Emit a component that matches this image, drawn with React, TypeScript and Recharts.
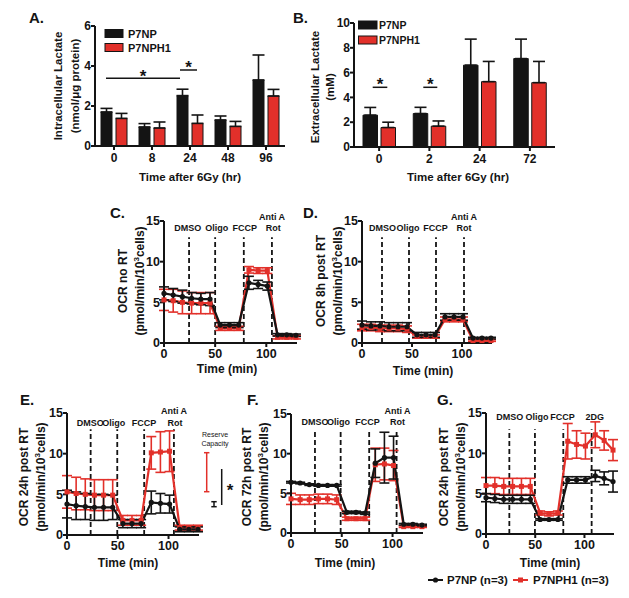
import React from "react";
import { BarChart, Bar, LineChart, Line, XAxis, YAxis, ErrorBar, ReferenceLine } from "recharts";

const FONT = '"Liberation Sans", Arial, Helvetica, sans-serif';
const INK = "#141414";
const RED = "#e2302a";

// A. intracellular lactate (nmol/ug protein)
const inCats = ["0", "8", "24", "48", "96"];
const inNp = [1.7, 0.95, 2.52, 1.3, 3.3];
const inNpErr = [0.18, 0.17, 0.32, 0.2, 1.25];
const inH1 = [1.38, 0.9, 1.13, 0.98, 2.5];
const inH1Err = [0.25, 0.3, 0.42, 0.25, 0.33];

// B. extracellular lactate (mM)
const exCats = ["0", "2", "24", "72"];
const exNp = [2.57, 2.7, 6.6, 7.13];
const exNpErr = [0.62, 0.5, 2.1, 1.57];
const exH1 = [1.57, 1.68, 5.27, 5.19];
const exH1Err = [0.43, 0.42, 1.63, 1.71];

// seahorse measurement times (min)
const times = [0, 9, 18, 27, 36, 45, 55, 64, 73, 83, 92, 101, 111, 120, 129];

// C. no RT
const cNp = [6.1, 5.9, 5.7, 5.5, 5.4, 5.4, 2.2, 2.2, 2.2, 7.4, 7.2, 7.0, 1.0, 1.0, 0.95];
const cNpErr = [0.8, 0.8, 0.8, 0.7, 0.7, 0.8, 0.3, 0.3, 0.3, 0.8, 0.5, 0.5, 0.15, 0.15, 0.15];
const cH1 = [5.3, 5.2, 5.0, 4.9, 4.9, 4.9, 1.8, 1.8, 1.8, 9.0, 8.9, 8.9, 0.7, 0.7, 0.7];
const cH1Err = [1.3, 1.4, 1.4, 1.3, 1.3, 1.3, 0.25, 0.25, 0.25, 0.4, 0.35, 0.35, 0.2, 0.2, 0.2];
const cInject = [24.5, 50, 78, 105.5];

// D. 8h post RT
const dNp = [2.2, 2.1, 2.1, 2.0, 2.0, 2.0, 1.0, 1.0, 1.0, 3.2, 3.2, 3.2, 0.6, 0.6, 0.6];
const dNpErr = [0.5, 0.5, 0.5, 0.5, 0.5, 0.5, 0.3, 0.3, 0.3, 0.4, 0.4, 0.4, 0.1, 0.1, 0.1];
const dH1 = [1.9, 1.9, 1.8, 1.8, 1.8, 1.7, 0.8, 0.8, 0.8, 2.9, 2.9, 2.9, 0.3, 0.3, 0.3];
const dH1Err = [0.4, 0.4, 0.4, 0.4, 0.4, 0.4, 0.2, 0.2, 0.2, 0.3, 0.3, 0.3, 0.1, 0.1, 0.1];
const dInject = [20, 47, 74, 102];

// E. 24h post RT
const eNp = [3.8, 3.6, 3.5, 3.4, 3.4, 3.4, 1.4, 1.4, 1.4, 4.0, 3.9, 3.8, 0.7, 0.7, 0.7];
const eNpErr = [1.7, 1.7, 1.6, 1.6, 1.6, 1.5, 0.5, 0.5, 0.5, 1.4, 1.2, 1.1, 0.3, 0.3, 0.3];
const eH1 = [5.3, 5.1, 5.0, 4.9, 4.9, 4.9, 1.8, 1.8, 1.8, 10.1, 10.2, 10.3, 0.9, 0.9, 0.9];
const eH1Err = [2.0, 2.0, 1.9, 1.9, 1.9, 1.9, 0.6, 0.6, 0.6, 2.0, 2.5, 2.5, 0.3, 0.3, 0.3];
const eInject = [23.3, 49.5, 76, 105.3];

// F. 72h post RT
const fNp = [6.4, 6.3, 6.1, 6.0, 6.0, 6.0, 2.6, 2.6, 2.5, 8.8, 9.5, 9.5, 1.1, 1.1, 1.0];
const fNpErr = [0.1, 0.1, 0.1, 0.1, 0.1, 0.1, 0.15, 0.15, 0.15, 1.8, 3.2, 2.7, 0.1, 0.1, 0.1];
const fH1 = [4.3, 4.2, 4.2, 4.3, 4.3, 4.2, 1.8, 1.8, 1.8, 8.6, 8.7, 8.5, 0.8, 0.8, 0.8];
const fH1Err = [0.7, 0.6, 0.6, 0.6, 0.6, 0.6, 0.2, 0.2, 0.2, 2.1, 2.0, 1.9, 0.1, 0.1, 0.1];
const fInject = [23.6, 48.9, 77, 104];

// G. 24h post RT, 2DG
const gNp = [4.5, 4.4, 4.3, 4.3, 4.3, 4.3, 1.8, 1.8, 1.8, 6.7, 6.7, 6.7, 7.2, 6.9, 6.5];
const gNpErr = [0.5, 0.5, 0.5, 0.5, 0.5, 0.5, 0.1, 0.1, 0.1, 0.4, 0.4, 0.4, 0.7, 0.8, 1.3];
const gH1 = [6.0, 6.0, 5.9, 5.9, 5.9, 5.9, 2.6, 2.5, 2.6, 11.5, 11.1, 10.9, 12.3, 11.6, 10.4];
const gH1Err = [1.0, 1.0, 1.0, 1.0, 1.0, 1.0, 0.25, 0.25, 0.25, 2.2, 1.7, 1.6, 1.6, 1.2, 1.3];
const gInject = [23.7, 49.7, 78.5, 107.3];

const barRows = (cats: string[], np: number[], npE: number[], h1: number[], h1E: number[]) =>
  cats.map((t, i) => ({ t, np: np[i], npE: [0, npE[i]], h1: h1[i], h1E: [0, h1E[i]] }));

const ocrRows = (np: number[], npE: number[], h1: number[], h1E: number[]) =>
  times.map((t, i) => ({ t, np: np[i], npE: npE[i], h1: h1[i], h1E: h1E[i] }));

const axisStyle = { stroke: INK, strokeWidth: 2 };

type Box = { left: number; top: number; width: number; height: number; yw: number; mt: number; mr: number; xh: number };

function LactateBars({ rows, box, yMax, yTicks, barSize, barGap }: any) {
  const tick = { fill: INK, fontSize: 12, fontWeight: 700, fontFamily: FONT };
  return (
    <div style={{ position: "absolute", left: box.left, top: box.top }}>
      <BarChart
        width={box.width}
        height={box.height}
        data={rows}
        margin={{ top: box.mt, right: box.mr, left: 0, bottom: 0 }}
        barSize={barSize}
        barGap={barGap}
      >
        <XAxis dataKey="t" height={box.xh} tickSize={4} tickMargin={3} axisLine={axisStyle} tickLine={axisStyle} tick={tick} />
        <YAxis width={box.yw} domain={[0, yMax]} ticks={yTicks} interval={0} tickSize={4} tickMargin={0} axisLine={axisStyle} tickLine={axisStyle} tick={tick} />
        <Bar dataKey="np" fill={INK} stroke={INK} strokeWidth={1} isAnimationActive={false}>
          <ErrorBar dataKey="npE" width={6} stroke={INK} strokeWidth={1.6} />
        </Bar>
        <Bar dataKey="h1" fill={RED} stroke={INK} strokeWidth={1} isAnimationActive={false}>
          <ErrorBar dataKey="h1E" width={6} stroke={INK} strokeWidth={1.6} />
        </Bar>
      </BarChart>
    </div>
  );
}

const roundDot = (p: any) => <circle key={`c${p.index}`} cx={p.cx} cy={p.cy} r={2.6} fill={INK} />;
const squareDot = (p: any) => <rect key={`s${p.index}`} x={p.cx - 2.5} y={p.cy - 2.5} width={5} height={5} fill={RED} />;

function OcrPanel({ rows, box, inject }: { rows: any[]; box: Box; inject: number[] }) {
  const tick = { fill: INK, fontSize: 12.5, fontWeight: 700, fontFamily: FONT };
  return (
    <div style={{ position: "absolute", left: box.left, top: box.top }}>
      <LineChart width={box.width} height={box.height} data={rows} margin={{ top: box.mt, right: box.mr, left: 0, bottom: 0 }}>
        <XAxis type="number" dataKey="t" domain={[0, 130]} ticks={[0, 50, 100]} height={box.xh} tickSize={4} tickMargin={2} axisLine={axisStyle} tickLine={axisStyle} tick={tick} />
        <YAxis type="number" width={box.yw} domain={[0, 15]} ticks={[0, 5, 10, 15]} interval={0} tickSize={4} tickMargin={0} axisLine={axisStyle} tickLine={axisStyle} tick={tick} />
        {inject.map((x) => (
          <ReferenceLine key={x} segment={[{ x, y: 0 }, { x, y: 13 }]} stroke={INK} strokeWidth={1.8} strokeDasharray="5 3" />
        ))}
        <Line dataKey="h1" stroke={RED} strokeWidth={2.2} dot={squareDot} isAnimationActive={false}>
          <ErrorBar dataKey="h1E" width={5} stroke={RED} strokeWidth={1.6} />
        </Line>
        <Line dataKey="np" stroke={INK} strokeWidth={2.2} dot={roundDot} isAnimationActive={false}>
          <ErrorBar dataKey="npE" width={5} stroke={INK} strokeWidth={1.6} />
        </Line>
      </LineChart>
    </div>
  );
}

function T({ x, y, size = 12, anchor = "middle", weight = 700, children }: any) {
  return (
    <text x={x} y={y} fontSize={size} fontWeight={weight} textAnchor={anchor} fontFamily={FONT} fill={INK}>
      {children}
    </text>
  );
}

function V({ x, y, size = 12, children }: any) {
  return (
    <text transform={`translate(${x},${y}) rotate(-90)`} textAnchor="middle" dominantBaseline="central" fontSize={size} fontWeight={700} fontFamily={FONT} fill={INK}>
      {children}
    </text>
  );
}

const Units = () => (
  <>
    (pmol/min/10<tspan dy={-4} fontSize={8}>3</tspan>
    <tspan dy={4}>cells)</tspan>
  </>
);

function Inj({ labels }: { labels: [string, number, number][] }) {
  return (
    <>
      {labels.map(([s, x, y]) => (
        <T key={s + x} x={x} y={y} size={9}>
          {s}
        </T>
      ))}
    </>
  );
}

function Overlay() {
  return (
    <svg width={629} height={598} style={{ position: "absolute", left: 0, top: 0, pointerEvents: "none" }}>
      {/* A */}
      <T x={29} y={23} size={15} anchor="start">A.</T>
      <V x={58} y={86} size={11.5}>Intracellular Lactate</V>
      <V x={75} y={86} size={11.5}>(nmol/μg protein)</V>
      <T x={190} y={181} size={11.5}>Time after 6Gy (hr)</T>
      <rect x={105} y={29.5} width={18} height={8} fill={INK} stroke={INK} />
      <rect x={105} y={43.5} width={18} height={8} fill={RED} stroke={INK} />
      <T x={128} y={37.5} size={11} anchor="start">P7NP</T>
      <T x={128} y={51.5} size={11} anchor="start">P7NPH1</T>
      <line x1={106} x2={180} y1={78.3} y2={78.3} stroke={INK} strokeWidth={1.5} />
      <line x1={180} x2={197} y1={70} y2={70} stroke={INK} strokeWidth={1.5} />
      <T x={143} y={82} size={17}>*</T>
      <T x={188.5} y={72.7} size={17}>*</T>

      {/* B */}
      <T x={293} y={23} size={15} anchor="start">B.</T>
      <V x={315} y={87} size={11.5}>Extracellular Lactate</V>
      <V x={330} y={87} size={11.5}>(mM)</V>
      <T x={458} y={181} size={11.5}>Time after 6Gy (hr)</T>
      <rect x={358.5} y={21} width={18.5} height={8} fill={INK} stroke={INK} />
      <rect x={358.5} y={36} width={18.5} height={8} fill={RED} stroke={INK} />
      <T x={379} y={29} size={10.5} anchor="start">P7NP</T>
      <T x={379} y={44} size={10.5} anchor="start">P7NPH1</T>
      <line x1={372.7} x2={387.3} y1={87.3} y2={87.3} stroke={INK} strokeWidth={1.5} />
      <line x1={423.3} x2={437.3} y1={87.3} y2={87.3} stroke={INK} strokeWidth={1.5} />
      <T x={380} y={90} size={17}>*</T>
      <T x={430.3} y={90} size={17}>*</T>

      {/* C */}
      <T x={110} y={218} size={15} anchor="start">C.</T>
      <V x={123} y={281}>OCR no RT</V>
      <V x={140} y={281}><Units /></V>
      <T x={227} y={373}>Time (min)</T>
      <Inj labels={[["DMSO", 187.8, 230.5], ["Oligo", 216.7, 230.5], ["FCCP", 244.7, 230.5], ["Anti A", 272, 220], ["Rot", 273.3, 230.5]]} />

      {/* D */}
      <T x={303} y={218} size={15} anchor="start">D.</T>
      <V x={321} y={281}>OCR 8h post RT</V>
      <V x={338} y={281}><Units /></V>
      <T x={423} y={375}>Time (min)</T>
      <Inj labels={[["DMSO", 382.5, 230.5], ["Oligo", 408, 230.5], ["FCCP", 435.6, 230.5], ["Anti A", 464, 220], ["Rot", 464, 230.5]]} />

      {/* E */}
      <T x={20} y={405} size={15} anchor="start">E.</T>
      <V x={24} y={477}>OCR 24h post RT</V>
      <V x={41} y={477}><Units /></V>
      <T x={128} y={567}>Time (min)</T>
      <Inj labels={[["DMSO", 90.3, 426], ["Oligo", 113.7, 426], ["FCCP", 144, 426], ["Anti A", 174, 414], ["Rot", 175, 426]]} />
      <T x={215} y={437} size={7} weight={400}>Reserve</T>
      <T x={215} y={446} size={7} weight={400}>Capacity</T>
      <line x1={206.7} x2={206.7} y1={452.7} y2={491.7} stroke={RED} strokeWidth={1.5} />
      <line x1={204} x2={209.4} y1={452.7} y2={452.7} stroke={RED} strokeWidth={1.5} />
      <line x1={204} x2={209.4} y1={491.7} y2={491.7} stroke={RED} strokeWidth={1.5} />
      <line x1={214} x2={214} y1={501.7} y2={506.7} stroke={INK} strokeWidth={1.5} />
      <line x1={211.3} x2={216.7} y1={501.7} y2={501.7} stroke={INK} strokeWidth={1.5} />
      <line x1={211.3} x2={216.7} y1={506.7} y2={506.7} stroke={INK} strokeWidth={1.5} />
      <line x1={221.7} x2={221.7} y1={469} y2={505} stroke={INK} strokeWidth={1.5} />
      <T x={230} y={496.4} size={17}>*</T>

      {/* F */}
      <T x={247} y={405} size={15} anchor="start">F.</T>
      <V x={247} y={477}>OCR 72h post RT</V>
      <V x={264} y={477}><Units /></V>
      <T x={345} y={567}>Time (min)</T>
      <Inj labels={[["DMSO", 315, 425], ["Oligo", 338.5, 425], ["FCCP", 367.5, 425], ["Anti A", 397.5, 414], ["Rot", 397.5, 425]]} />

      {/* G */}
      <T x={437} y={405} size={15} anchor="start">G.</T>
      <V x={444} y={477}>OCR 24h post RT</V>
      <V x={461} y={477}><Units /></V>
      <T x={550} y={567}>Time (min)</T>
      <Inj labels={[["DMSO", 509.7, 419.5], ["Oligo", 537, 419.5], ["FCCP", 562.5, 419.5], ["2DG", 594.7, 419.5]]} />

      {/* shared legend */}
      <line x1={428} x2={443} y1={580} y2={580} stroke={INK} strokeWidth={2} />
      <circle cx={435.5} cy={580} r={2.6} fill={INK} />
      <T x={447} y={584} size={11.5} anchor="start">P7NP (n=3)</T>
      <line x1={513} x2={528} y1={580} y2={580} stroke={RED} strokeWidth={2} />
      <rect x={518} y={577.5} width={5} height={5} fill={RED} />
      <T x={533} y={584} size={11.5} anchor="start">P7NPH1 (n=3)</T>
    </svg>
  );
}

export default function App() {
  return (
    <div style={{ position: "absolute", left: 0, top: 0, width: 629, height: 598, background: "#fff", fontFamily: FONT }}>
      <LactateBars
        rows={barRows(inCats, inNp, inNpErr, inH1, inH1Err)}
        box={{ left: 0, top: 0, width: 300, height: 190, yw: 95, mt: 26, mr: 15, xh: 44 }}
        yMax={6}
        yTicks={[0, 2, 4, 6]}
        barSize={11}
        barGap={4}
      />
      <LactateBars
        rows={barRows(exCats, exNp, exNpErr, exH1, exH1Err)}
        box={{ left: 300, top: 0, width: 329, height: 190, yw: 54, mt: 23, mr: 74, xh: 43 }}
        yMax={10}
        yTicks={[0, 2, 4, 6, 8, 10]}
        barSize={14.5}
        barGap={3.5}
      />
      <OcrPanel rows={ocrRows(cNp, cNpErr, cH1, cH1Err)} inject={cInject} box={{ left: 100, top: 200, width: 229, height: 180, yw: 64, mt: 21, mr: 32, xh: 37 }} />
      <OcrPanel rows={ocrRows(dNp, dNpErr, dH1, dH1Err)} inject={dInject} box={{ left: 300, top: 200, width: 229, height: 180, yw: 62, mt: 21, mr: 37, xh: 37 }} />
      <OcrPanel rows={ocrRows(eNp, eNpErr, eH1, eH1Err)} inject={eInject} box={{ left: 0, top: 380, width: 210, height: 190, yw: 67, mt: 33, mr: 11, xh: 35 }} />
      <OcrPanel rows={ocrRows(fNp, fNpErr, fH1, fH1Err)} inject={fInject} box={{ left: 210, top: 380, width: 220, height: 190, yw: 81, mt: 34, mr: 7, xh: 37 }} />
      <OcrPanel rows={ocrRows(gNp, gNpErr, gH1, gH1Err)} inject={gInject} box={{ left: 430, top: 380, width: 199, height: 190, yw: 56, mt: 33, mr: 15, xh: 36 }} />
      <Overlay />
    </div>
  );
}
